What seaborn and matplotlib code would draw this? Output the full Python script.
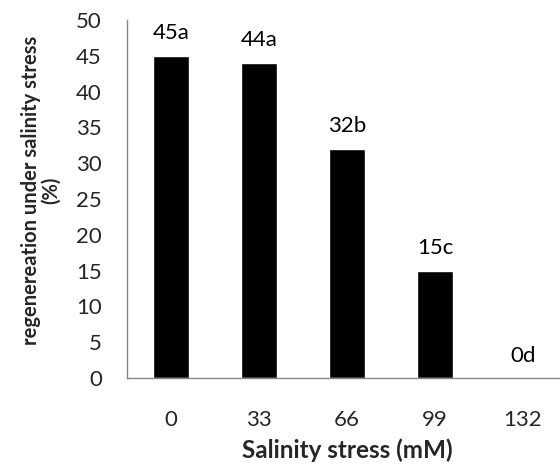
import matplotlib
matplotlib.use("Agg")
import matplotlib.pyplot as plt
import numpy as np
import pandas as pd
import seaborn as sns

# ── Data ──────────────────────────────────────────────────────────────────────
salinity = ["0", "33", "66", "99", "132"]
regeneration = [45, 44, 32, 15, 0]
letters = ["45a", "44a", "32b", "15c", "0d"]

df = pd.DataFrame({"salinity": salinity, "regeneration": regeneration})

# ── Plot ──────────────────────────────────────────────────────────────────────
sns.set_style("white")
plt.rcParams["font.family"] = ["Lato", "DejaVu Sans"]

axis_grey = "#868686"

fig = plt.figure(figsize=(5.6, 4.68), dpi=100)
ax = fig.add_axes([127 / 560, 1 - 378 / 468, 440 / 560, 358 / 468])

sns.barplot(data=df, x="salinity", y="regeneration", color="black",
            width=0.4, saturation=1, ax=ax)

for i, (val, lab) in enumerate(zip(regeneration, letters)):
    ax.annotate(lab, (i, val), xytext=(0, 9), textcoords="offset points",
                ha="center", va="bottom", fontsize=16, color="black")

ax.set_xlim(-0.5, 4.5)
ax.set_ylim(0, 50)
ax.set_yticks(np.arange(0, 51, 5))
ax.set_xticks(np.arange(-0.5, 4.6, 1), minor=True)

ax.tick_params(axis="y", which="major", direction="out", length=7, width=1,
               color=axis_grey, labelsize=16, pad=11)
ax.tick_params(axis="x", which="major", length=0, labelsize=16, pad=23)
ax.tick_params(axis="x", which="minor", direction="out", length=6, width=1,
               color=axis_grey)

for side in ["top", "right"]:
    ax.spines[side].set_visible(False)
for side in ["left", "bottom"]:
    ax.spines[side].set_color(axis_grey)
    ax.spines[side].set_linewidth(1)

ax.set_xlabel("Salinity stress (mM)", fontsize=17.5, fontweight="bold")
ax.set_ylabel("regenereation under salinity stress\n(%)", fontsize=14.5,
              fontweight="bold", linespacing=1.0)
ax.xaxis.set_label_coords(0.5, -0.17)
ax.yaxis.set_label_coords(-0.15, 0.525)

fig.savefig("out.png", dpi=100)
